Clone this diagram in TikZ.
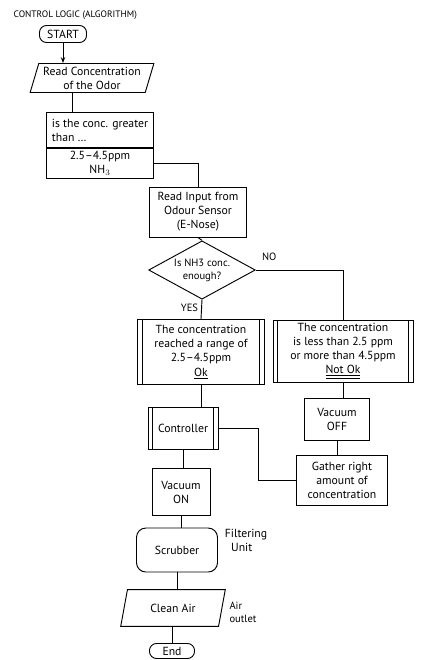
\documentclass[tikz,border=0pt]{standalone}
\usepackage{fontspec}
\setmainfont{PT Sans}
\usetikzlibrary{positioning,arrows.meta}
\usepgflibrary{shapes.geometric}
\tikzset{%
terminal/.style={draw,rectangle,rounded corners=6pt,inner sep=1pt},
io/.style={draw,trapezium,trapezium left angle=72,trapezium right angle=108,trapezium stretches=true,align=center,inner sep=1pt},
process/.style={draw,rectangle,align=center,inner sep=2pt},
predef/.style={process,path picture={
  \draw ([xshift=4pt]path picture bounding box.north west) -- ([xshift=4pt]path picture bounding box.south west)
        ([xshift=-4pt]path picture bounding box.north east) -- ([xshift=-4pt]path picture bounding box.south east);}},
decision/.style={draw,diamond,aspect=1.85,inner sep=0pt,align=center,font=\small},
note/.style={align=left,inner sep=1pt},
flowlabel/.style={font=\small,inner sep=1pt}
}
\begin{document}
\begin{tikzpicture}[x=0.03cm,y=-0.03cm,thick]
    \useasboundingbox (0,0) rectangle (445,660);

    \node[note,anchor=west,font=\footnotesize] (title) at (12,15) {CONTROL LOGIC (ALGORITHM)};

    \node[terminal,minimum width=1.41cm,minimum height=0.51cm] (start) at (63,34) {START};
    \node[io,minimum width=3.75cm,minimum height=0.87cm] (readconc) at (92,78) {Read Concentration\\of the Odor};

    \node[process,align=left,minimum width=3.2cm,minimum height=1.05cm] (check) at (100,130) {is the conc. greater\\than \dots};
    \node[process,minimum width=3.2cm,minimum height=0.9cm,inner sep=1pt] (checkval) [below=0pt of check] {2.5--4.5ppm\\NH$_3$};

    \node[process,minimum width=2.9cm,minimum height=1.5cm] (sensor) at (198,212) {Read Input from\\Odour Sensor\\(E-Nose)};
    \node[decision,minimum width=3.2cm,minimum height=1.75cm] (enough) at (202,270) {Is NH3 conc.\\enough?};
    \node[flowlabel] (no) [above right=7pt and 4pt of enough.east] {NO};
    \node[flowlabel,anchor=north east] (yes) at ([xshift=-2pt,yshift=-2pt]enough.south) {YES};

    \node[predef,minimum width=3.8cm,minimum height=1.95cm] (ok) at (201,352) {The concentration\\reached a range of\\2.5--4.5ppm\\\underline{Ok}};
    \node[predef,minimum width=4.2cm,minimum height=1.86cm] (notok) at (343,351) {The concentration\\is less than 2.5 ppm\\or more than 4.5ppm\\\underline{\underline{Not Ok}}};

    \node[predef,minimum width=2.1cm,minimum height=1.26cm] (controller) at (183,428) {Controller};
    \node[process,minimum width=1.95cm,minimum height=1.26cm] (vacoff) at (337,419) {Vacuum\\OFF};
    \node[process,minimum width=2.73cm,minimum height=1.5cm] (gather) at (342,480) {Gather right\\amount of\\concentration};
    \node[process,minimum width=1.74cm,minimum height=1.41cm] (vacon) at (181,492) {Vacuum\\ON};

    \node[terminal,rounded corners=8pt,minimum width=2.43cm,minimum height=1.32cm] (scrubber) at (177,550) {Scrubber};
    \node[note] (filter) at (246,540) {Filtering\\\ \ Unit};
    \node[io,minimum width=3.15cm,minimum height=1.1cm] (clean) at (173,608) {Clean Air};
    \node[note,font=\small] (outlet) at (243,612) {Air\\outlet};
    \node[terminal,minimum width=1.35cm,minimum height=0.45cm] (finish) at (172,651) {End};

    \draw[-{Stealth[length=5pt]}] (start.south) -- (start.south |- readconc.north);
    \draw ([xshift=-0.6cm]readconc.south) -- ([xshift=-0.6cm]readconc.south |- check.north);
    \draw (checkval.east) -| (sensor.north);
    \draw (sensor.south) -- (enough.north);
    \draw (enough.east) -| (notok.north);
    \draw (enough.south) -- (ok.north);
    \draw (ok.south) -- (ok.south |- controller.north);
    \draw (notok.south) -- (notok.south |- vacoff.north);
    \draw (vacoff.south) -- (vacoff.south |- gather.north);
    \draw (controller.east) -- ++(40,0) |- (gather.west);
    \draw (controller.south) -- (controller.south |- vacon.north);
    \draw (vacon.south) -- (vacon.south |- scrubber.north);
    \draw (scrubber.south) -- (scrubber.south |- clean.north);
    \draw (finish.north |- clean.south) -- (finish.north);
  \end{tikzpicture}
\end{document}
